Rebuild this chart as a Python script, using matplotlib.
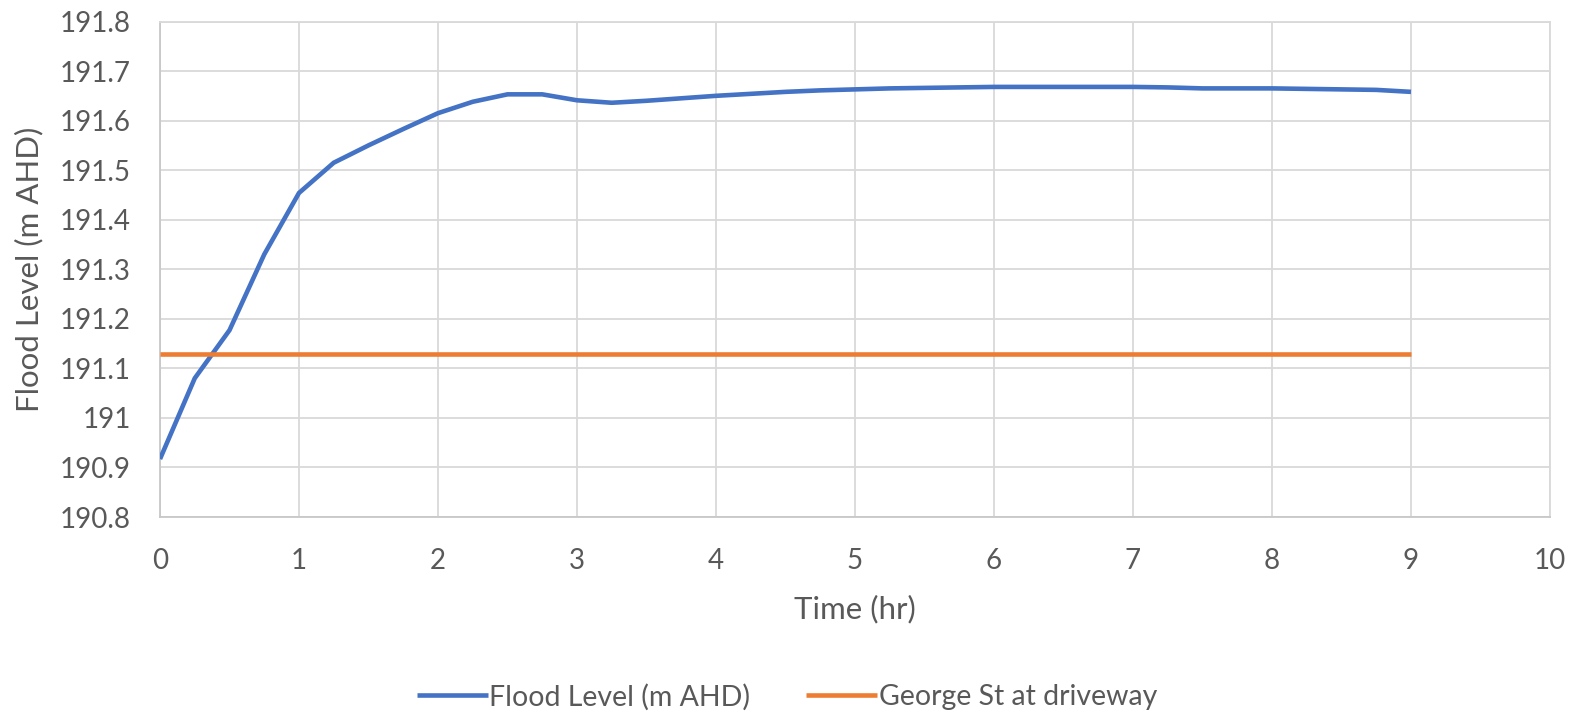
import matplotlib
matplotlib.use("Agg")
import matplotlib.pyplot as plt
from matplotlib.ticker import FuncFormatter, MultipleLocator

plt.rcParams['font.family'] = ['Lato', 'DejaVu Sans']

# Flood level hydrograph, sampled every quarter hour
time_hr = [0.0, 0.25, 0.5, 0.75, 1.0, 1.25, 1.5, 1.75, 2.0, 2.25, 2.5, 2.75,
           3.0, 3.25, 3.5, 3.75, 4.0, 4.25, 4.5, 4.75, 5.0, 5.25, 5.5, 5.75,
           6.0, 6.25, 6.5, 6.75, 7.0, 7.25, 7.5, 7.75, 8.0, 8.25, 8.5, 8.75, 9.0]
flood_level = [190.917, 191.080, 191.177, 191.330, 191.454, 191.515, 191.550,
               191.583, 191.615, 191.638, 191.653, 191.653, 191.641, 191.636,
               191.640, 191.645, 191.650, 191.654, 191.658, 191.661, 191.663,
               191.665, 191.666, 191.667, 191.668, 191.668, 191.668, 191.668,
               191.668, 191.667, 191.665, 191.665, 191.665, 191.664, 191.663,
               191.662, 191.658]

# Road level at the driveway
driveway_time = [0.0, 9.0]
driveway_level = [191.128, 191.128]

blue = '#4472C4'
orange = '#ED7D31'
text_col = '#595959'
grid_col = '#D9D9D9'

fig = plt.figure(figsize=(15.8, 7.2), dpi=100)
ax = fig.add_axes([160 / 1580, 1 - 517 / 720, 1390 / 1580, (517 - 21.5) / 720])

ax.plot(time_hr, flood_level, color=blue, lw=3.3, solid_joinstyle='round',
        solid_capstyle='butt', label='Flood Level (m AHD)', zorder=3)
ax.plot(driveway_time, driveway_level, color=orange, lw=3.3,
        solid_capstyle='butt', label='George St at driveway', zorder=3)

ax.set_xlim(0, 10)
ax.set_ylim(190.8, 191.8)
ax.xaxis.set_major_locator(MultipleLocator(1))
ax.yaxis.set_major_locator(MultipleLocator(0.1))
ax.yaxis.set_major_formatter(FuncFormatter(lambda v, p: f'{round(v, 1):g}'))

ax.grid(True, color=grid_col, lw=1.3, zorder=0)
for s in ax.spines.values():
    s.set_color(grid_col)
    s.set_linewidth(1.3)
ax.spines['left'].set_color('#C8C8C8')
ax.spines['bottom'].set_color('#C8C8C8')

ax.tick_params(axis='both', length=0, labelsize=20, colors=text_col)
ax.tick_params(axis='y', pad=21)
ax.tick_params(axis='x', pad=22)

ax.set_xlabel('Time (hr)', fontsize=22.5, color=text_col, labelpad=15)
ax.set_ylabel('Flood Level (m AHD)', fontsize=22.5, color=text_col, labelpad=12)

leg = fig.legend(loc='center', bbox_to_anchor=(0.498, 1 - 697 / 720), ncol=2,
                 frameon=False, fontsize=20.5, handlelength=2.5,
                 handletextpad=0.05, columnspacing=1.95)
for t in leg.get_texts():
    t.set_color(text_col)

fig.savefig('out.png', dpi=100, facecolor='white')
